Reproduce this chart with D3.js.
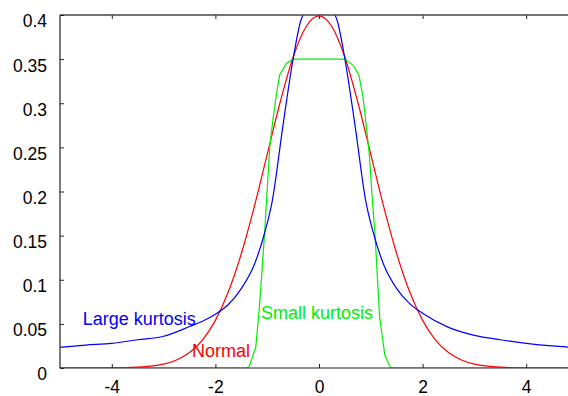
<!DOCTYPE html>
<html>
<head>
<meta charset="utf-8">
<script src="https://cdn.jsdelivr.net/npm/d3@7"></script>
<style>
	body { margin: 0; background: #fff; }
	svg { display: block; font-family: "Liberation Sans", Arial, sans-serif; }
</style>
</head>
<body>
<div id="chart"></div>
<script>
"use strict";

// values
var xTicks = [-4, -2, 0, 2, 4];
var yTicks = [0, 0.05, 0.1, 0.15, 0.2, 0.25, 0.3, 0.35, 0.4];

var normalX = [-5, -4, -3.5, -3, -2.75, -2.5, -2.25, -2, -1.75, -1.5, -1.25, -1, -0.75, -0.5, -0.25, 0,
	0.25, 0.5, 0.75, 1, 1.25, 1.5, 1.75, 2, 2.25, 2.5, 2.75, 3, 3.5, 4, 5];
var normalY = [0, 0.0001, 0.0009, 0.0044, 0.0091, 0.0175, 0.0317, 0.054, 0.0863, 0.1295, 0.1826, 0.242, 0.3011, 0.3521, 0.3867, 0.3989,
	0.3867, 0.3521, 0.3011, 0.242, 0.1826, 0.1295, 0.0863, 0.054, 0.0317, 0.0175, 0.0091, 0.0044, 0.0009, 0.0001, 0];

var largeX = [-5, -4.5, -4, -3.5, -3, -2.75, -2.5, -2.25, -2, -1.75, -1.5, -1.25, -1.05, -0.9, -0.7, -0.5, -0.35, -0.2, 0,
	0.2, 0.35, 0.5, 0.7, 0.9, 1.05, 1.25, 1.5, 1.75, 2, 2.5, 3, 3.5, 4, 4.5, 5];
var largeY = [0.0235, 0.026, 0.028, 0.032, 0.036, 0.041, 0.047, 0.053, 0.061, 0.072, 0.09, 0.117, 0.153, 0.19, 0.273, 0.35, 0.394, 0.408, 0.415,
	0.408, 0.394, 0.35, 0.273, 0.19, 0.153, 0.117, 0.09, 0.073, 0.062, 0.046, 0.037, 0.032, 0.028, 0.025, 0.023];

var smallX = [-5, -1.4, -1.35, -1.28, -1.22, -1.15, -1.05, -0.95, -0.89, -0.82, -0.76, -0.63, -0.5,
	0.5, 0.66, 0.77, 0.85, 0.9, 0.97, 1.03, 1.08, 1.17, 1.27, 1.37, 1.42, 5];
var smallY = [0, 0, 0.0015, 0.013, 0.024, 0.069, 0.153, 0.251, 0.281, 0.311, 0.332, 0.345, 0.35,
	0.35, 0.343, 0.332, 0.307, 0.281, 0.243, 0.19, 0.153, 0.058, 0.015, 0.0015, 0, 0];

var labels = [
	{text: 'Large kurtosis', x: -4.56, y: 0.049, color: '#0000ff'},
	{text: 'Normal', x: -2.45, y: 0.012, color: '#ff0000'},
	{text: 'Small kurtosis', x: -1.12, y: 0.055, color: '#00ee00'}
];

var width = 568, height = 396;
var margins = {top: 15, left: 60, bottom: 28};

var x = d3.scaleLinear().domain([-5, 5]).range([60, 578]);
var y = d3.scaleLinear().domain([0, 0.4]).range([height - margins.bottom, margins.top]);

var svg = d3.select('#chart').append('svg')
	.attr('width', width)
	.attr('height', height);

svg.append('clipPath').attr('id', 'plot')
	.append('rect')
	.attr('x', margins.left)
	.attr('y', margins.top)
	.attr('width', width - margins.left)
	.attr('height', y(0) - margins.top);

function pairs(xs, ys) {
	return xs.map(function(v, i) { return [v, ys[i]]; });
}

var smooth = d3.line()
	.x(function(d) { return x(d[0]); })
	.y(function(d) { return y(d[1]); })
	.curve(d3.curveMonotoneX);
var straight = d3.line()
	.x(function(d) { return x(d[0]); })
	.y(function(d) { return y(d[1]); });

var curves = svg.append('g').attr('clip-path', 'url(#plot)')
	.attr('fill', 'none')
	.attr('stroke-width', 1.2);

curves.append('path').attr('d', smooth(pairs(normalX, normalY))).attr('stroke', '#ff0000');
curves.append('path').attr('d', straight(pairs(smallX, smallY))).attr('stroke', '#00ee00');
curves.append('path').attr('d', smooth(pairs(largeX, largeY))).attr('stroke', '#0000ff');

// frame: left, bottom and top lines, ticks point inward
var axisColor = '#222';
var bottomAxis = svg.append('g')
	.attr('transform', 'translate(0,' + y(0) + ')')
	.call(d3.axisBottom(x).tickValues(xTicks).tickSize(-4).tickPadding(0).tickFormat(function(d) { return String(d); }));
bottomAxis.select('.domain').remove();
bottomAxis.append('line')
	.attr('x1', margins.left).attr('x2', width)
	.attr('stroke', axisColor).attr('stroke-width', 1.2);
bottomAxis.selectAll('text')
	.attr('y', 0).attr('dy', '1.45em');

var topAxis = svg.append('g')
	.attr('transform', 'translate(0,' + margins.top + ')')
	.call(d3.axisTop(x).tickValues(xTicks).tickSize(-4).tickFormat(''));
topAxis.select('.domain').remove();
topAxis.append('line')
	.attr('x1', margins.left).attr('x2', width)
	.attr('stroke', '#444').attr('stroke-width', 1.5);

var leftAxis = svg.append('g')
	.attr('transform', 'translate(' + margins.left + ',0)')
	.call(d3.axisLeft(y).tickValues(yTicks).tickSize(-4).tickPadding(13).tickFormat(function(d) { return String(d); }));
leftAxis.select('.domain').remove();
leftAxis.append('line')
	.attr('y1', margins.top).attr('y2', y(0))
	.attr('stroke', axisColor).attr('stroke-width', 1.2);
leftAxis.selectAll('text').attr('dy', '0.68em');

svg.selectAll('.tick line').attr('stroke', axisColor);
svg.selectAll('.tick text')
	.attr('fill', '#000')
	.style('font-size', '17.5px')
	.style('font-family', '"Liberation Sans", Arial, sans-serif');

svg.append('g').selectAll('text')
	.data(labels)
	.join('text')
	.attr('x', function(d) { return x(d.x); })
	.attr('y', function(d) { return y(d.y); })
	.attr('fill', function(d) { return d.color; })
	.style('font-size', '18px')
	.text(function(d) { return d.text; });
</script>
</body>
</html>
